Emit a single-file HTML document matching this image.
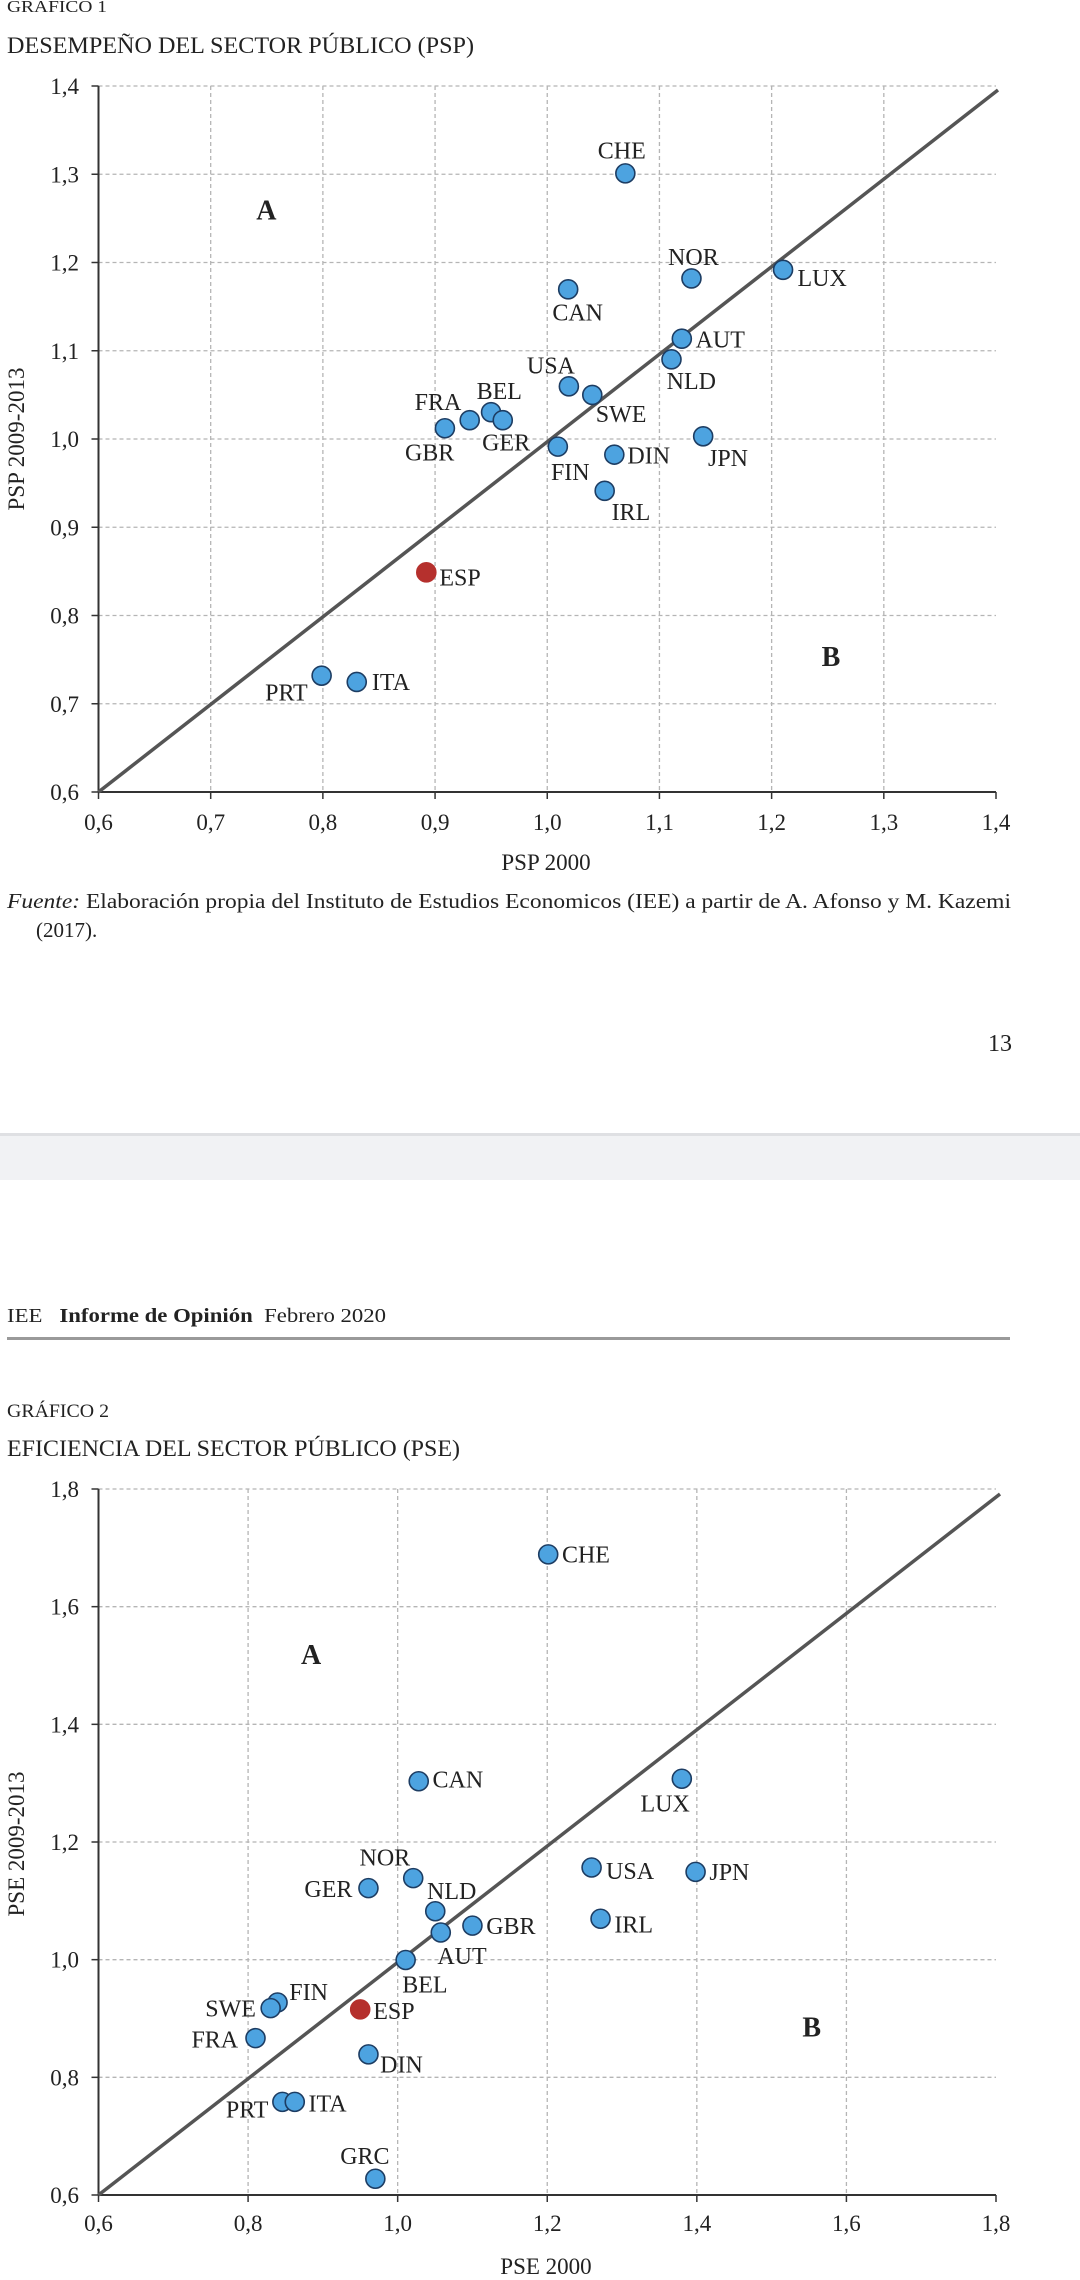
<!DOCTYPE html>
<html><head><meta charset="utf-8">
<style>
html,body{margin:0;padding:0;background:#fff;}
svg{display:block;}
text{font-family:"Liberation Serif",serif;fill:#222;}
</style></head>
<body>
<svg id="s" width="1080" height="2280" xmlns="http://www.w3.org/2000/svg">
<rect x="0" y="1135" width="1080" height="45" fill="#f1f2f4"/>
<rect x="0" y="1133" width="1080" height="3" fill="#dfe0e3"/>
<text x="7" y="12" font-size="17" textLength="100" lengthAdjust="spacingAndGlyphs">GRÁFICO 1</text>
<text x="7" y="53" font-size="23" textLength="467" lengthAdjust="spacingAndGlyphs">DESEMPEÑO DEL SECTOR PÚBLICO (PSP)</text>
<text x="7" y="908" font-size="21" textLength="1004" lengthAdjust="spacingAndGlyphs"><tspan font-style="italic">Fuente:</tspan> Elaboración propia del Instituto de Estudios Economicos (IEE) a partir de A. Afonso y M. Kazemi</text>
<text x="36" y="937" font-size="21">(2017).</text>
<text x="1012" y="1051" font-size="24" text-anchor="end">13</text>
<text x="7" y="1322" font-size="20" textLength="379" lengthAdjust="spacingAndGlyphs">IEE <tspan dx="10" font-weight="bold">Informe de Opinión</tspan><tspan dx="10">Febrero 2020</tspan></text>
<rect x="7" y="1337" width="1003" height="3" fill="#9a9a9a"/>
<text x="7" y="1417" font-size="19" textLength="102" lengthAdjust="spacingAndGlyphs">GRÁFICO 2</text>
<text x="7" y="1456" font-size="23" textLength="453" lengthAdjust="spacingAndGlyphs">EFICIENCIA DEL SECTOR PÚBLICO (PSE)</text>
<g id="g"></g>
</svg>
<script>
var g=document.getElementById('g'),NS='http://www.w3.org/2000/svg';
function el(t,a,txt){var e=document.createElementNS(NS,t);for(var k in a)e.setAttribute(k,a[k]);if(txt)e.textContent=txt;g.appendChild(e);return e;}
function chart(o){
 var L=98.5,R=996,T=o.T,B=o.B;
 function px(v){return L+(v-o.x0)/(o.x1-o.x0)*(R-L);}
 function py(v){return B-(v-o.y0)/(o.y1-o.y0)*(B-T);}
 for(var v=o.x0;v<=o.x1+1e-9;v+=o.xs){var x=px(v);
   if(v>o.x0+1e-9&&v<o.x1-1e-9)el('line',{x1:x,y1:T,x2:x,y2:B,stroke:'#b5b5b5','stroke-width':1.3,'stroke-dasharray':'4,3'});
   el('line',{x1:x,y1:B,x2:x,y2:B+7,stroke:'#333','stroke-width':1.5});
   el('text',{x:x,y:o.xl,'font-size':23,'text-anchor':'middle'},v.toFixed(1).replace('.',','));}
 for(var v=o.y0;v<=o.y1+1e-9;v+=o.ys){var y=py(v);
   if(v>o.y0+1e-9)el('line',{x1:L,y1:y,x2:R,y2:y,stroke:'#b5b5b5','stroke-width':1.3,'stroke-dasharray':'4,3'});
   el('line',{x1:L-7,y1:y,x2:L,y2:y,stroke:'#333','stroke-width':1.5});
   el('text',{x:79,y:y+8,'font-size':23,'text-anchor':'end'},v.toFixed(1).replace('.',','));}
 el('line',{x1:L,y1:T,x2:L,y2:B,stroke:'#333','stroke-width':2});
 el('line',{x1:L,y1:B,x2:R,y2:B,stroke:'#333','stroke-width':2});
 el('line',{x1:L,y1:B,x2:o.dx,y2:o.dy,stroke:'#555','stroke-width':3.5});
 el('text',{x:0,y:0,'font-size':23,'text-anchor':'middle',transform:'translate(24,'+o.yt+') rotate(-90)'},o.ytitle);
 el('text',{x:546,y:o.xt,'font-size':23,'text-anchor':'middle'},o.xtitle);
 o.pts.forEach(function(p){
   var x=p[0]/1.452,y=o.oy+p[1]/o.sy;
   el('circle',{cx:x,cy:y,r:9.5,fill:p[5]?'#b5302d':'#4da3e0',stroke:p[5]?'#b5302d':'#1d3d63','stroke-width':1.6});
   el('text',{x:p[3]/1.452,y:o.oy+p[4]/o.sy,'font-size':24},p[2]);
 });
 o.ab.forEach(function(a){el('text',{x:a[1]/1.452,y:o.oy+a[2]/o.sy,'font-size':28,'font-weight':'bold',fill:'#444'},a[0]);});
}
chart({T:86,B:792,x0:0.6,x1:1.4,xs:0.1,y0:0.6,y1:1.4,ys:0.1,xl:830,xt:870,yt:439,dx:998,dy:90,oy:0,sy:1.742,
 xtitle:'PSP 2000',ytitle:'PSP 2009-2013',
 pts:[[908,302,'CHE',868,276],[1004,485,'NOR',970,462],[1137,470,'LUX',1158,498],[825,504,'CAN',802,558],
 [990,590,'AUT',1010,605],[975,626,'NLD',968,678],[826,673,'USA',765,651],[860,688,'SWE',865,735],
 [713,718,'BEL',692,695],[682,732,'FRA',602,714],[730,732,'GER',700,785],[646,746,'GBR',588,802],
 [810,778,'FIN',800,836],[892,792,'DIN',911,807],[1021,760,'JPN',1028,812],[878,855,'IRL',888,906],
 [619,997,'ESP',638,1020,1],[467,1177,'PRT',385,1220],[518,1188,'ITA',540,1202]],
 ab:[['A',372,382],['B',1193,1160]]});
chart({T:1489,B:2195,x0:0.6,x1:1.8,xs:0.2,y0:0.6,y1:1.8,ys:0.2,xl:2231,xt:2274,yt:1844,dx:1000,dy:1494,oy:1300,sy:1.6,
 xtitle:'PSE 2000',ytitle:'PSE 2009-2013',
 pts:[[796,407,'CHE',816,420],[608,770,'CAN',628,780],[990,766,'LUX',930,818],[859,908,'USA',880,926],
 [1010,915,'JPN',1030,928],[600,925,'NOR',522,905],[535,941,'GER',442,955],[632,978,'NLD',620,958],
 [686,1001,'GBR',706,1014],[872,990,'IRL',892,1012],[640,1012,'AUT',635,1062],[589,1056,'BEL',584,1108],
 [403,1124,'FIN',420,1120],[393,1133,'SWE',298,1146],[523,1135,'ESP',542,1150,1],[371,1181,'FRA',278,1196],
 [535,1207,'DIN',552,1236],[410,1283,'PRT',328,1308],[428,1283,'ITA',448,1298],[545,1406,'GRC',494,1382]],
 ab:[['A',437,582],['B',1165,1178]]});
</script>
</body></html>
